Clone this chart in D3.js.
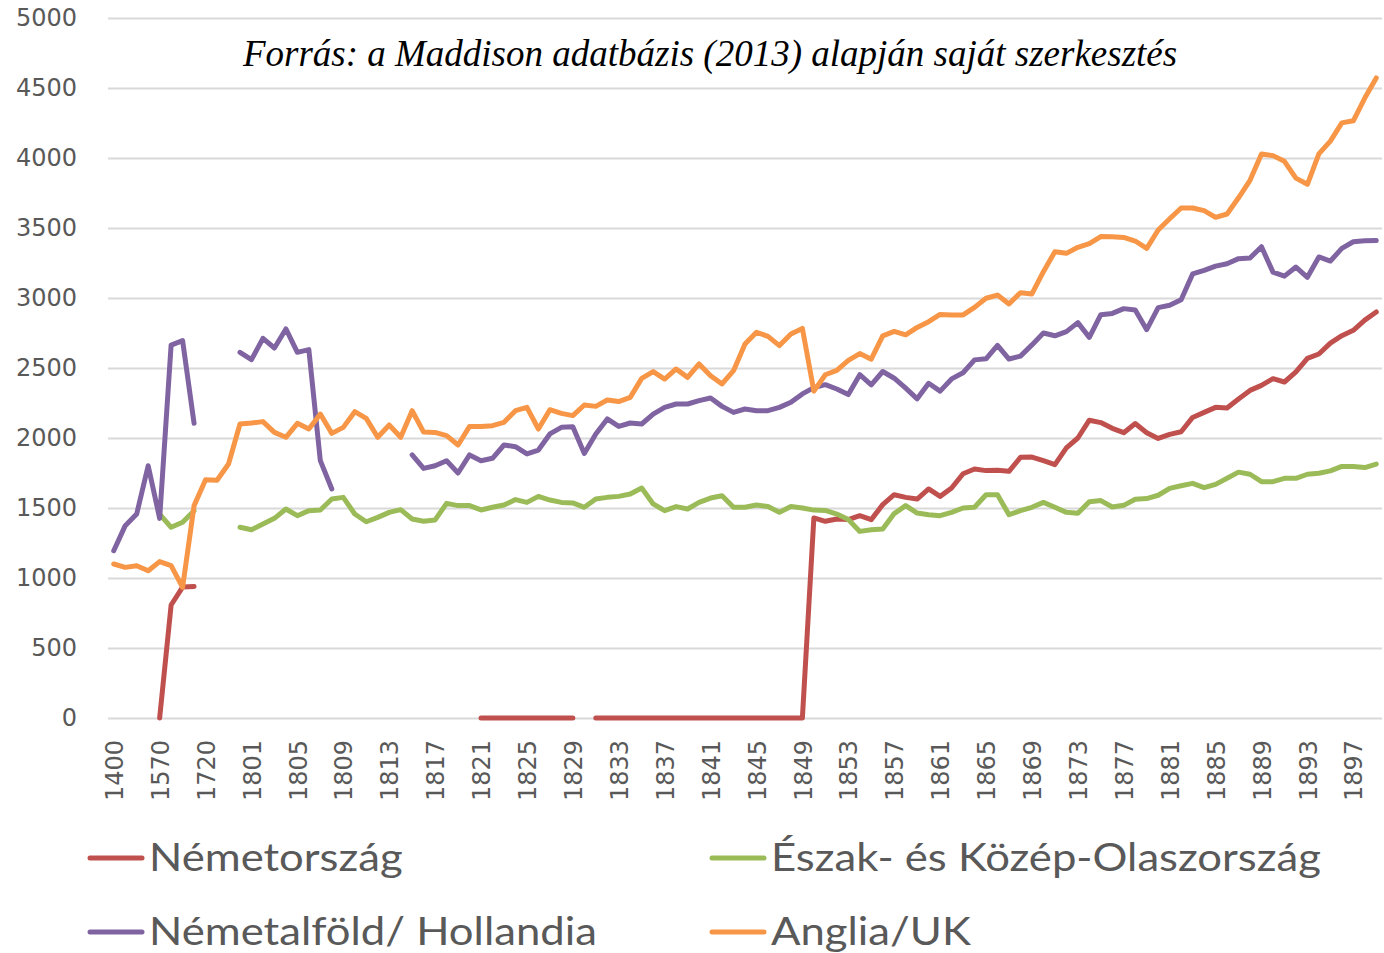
<!DOCTYPE html>
<html>
<head>
<meta charset="utf-8">
<script src="https://cdn.jsdelivr.net/npm/d3@7"></script>
<style>
	body { margin: 0; background: #fff; }
	svg { display: block; }
</style>
</head>
<body>
<div id="chart"></div>
<script>
// Data

var earlyYears = ['1400', '1450', '1500', '1550', '1570', '1600', '1650', '1700', '1720', '1750', '1780', '1800'];
var years = earlyYears.concat(d3.range(1801, 1900).map(String));

var nemetorszag = [
	null, null, null, null, 0, 807, 935, 940, null, null, null, null,
	null, null, null, null, null, null, null, null, null, null, null, null, null, null, null, null, null, null,
	null, null, 0, 0, 0, 0, 0, 0, 0, 0, 0, null,
	0, 0, 0, 0, 0, 0, 0, 0, 0, 0, 0, 0, 0, 0, 0, 0, 0, 0, 0,
	1429, 1405, 1421, 1417, 1445, 1417, 1524, 1595, 1576, 1564, 1636, 1583, 1643, 1745, 1779, 1767, 1769, 1762,
	1862, 1864, 1838, 1810, 1929, 2000, 2127, 2110, 2069, 2038, 2103, 2038, 1997, 2026, 2045, 2147, 2183, 2219,
	2214, 2279, 2340, 2376, 2424, 2400, 2472, 2569, 2600, 2678, 2731, 2769, 2842, 2900
];

var olaszorszag = [
	null, null, null, null, 1457, 1362, 1398, 1481, null, null, null, 1362,
	1345, 1386, 1426, 1493, 1445, 1481, 1486, 1564, 1576, 1457, 1402, 1433, 1469, 1488, 1421, 1405, 1415, 1533,
	1517, 1517, 1486, 1505, 1521, 1560, 1540, 1583, 1557, 1540, 1536, 1505, 1564, 1576, 1583, 1600, 1643, 1529,
	1481, 1510, 1493, 1540, 1571, 1588, 1505, 1505, 1521, 1510, 1469, 1510, 1500, 1485, 1483, 1457, 1417, 1333,
	1345, 1350, 1460, 1517, 1464, 1452, 1445, 1469, 1500, 1505, 1595, 1595, 1452, 1481, 1505, 1540, 1505, 1469,
	1462, 1545, 1553, 1507, 1519, 1562, 1567, 1591, 1640, 1659, 1676, 1645, 1669, 1712, 1756, 1741, 1688, 1688,
	1712, 1712, 1741, 1748, 1765, 1797, 1797, 1789, 1814
];

var hollandia = [
	1195, 1374, 1457, 1802, 1426, 2664, 2695, 2105, null, null, null, 2612,
	2560, 2712, 2643, 2779, 2612, 2631, 1838, 1636, null, null, null, null, null, null, 1879, 1783, 1802, 1838,
	1750, 1879, 1838, 1855, 1950, 1938, 1886, 1914, 2029, 2076, 2081, 1890, 2029, 2136, 2083, 2107, 2100, 2171,
	2219, 2243, 2243, 2267, 2286, 2226, 2183, 2207, 2195, 2195, 2219, 2255, 2315, 2360, 2381, 2350, 2310, 2452,
	2380, 2475, 2427, 2356, 2280, 2391, 2335, 2422, 2466, 2558, 2566, 2662, 2564, 2585, 2665, 2750, 2730, 2760,
	2824, 2719, 2881, 2890, 2924, 2914, 2774, 2931, 2948, 2987, 3172, 3197, 3228, 3245, 3281, 3286, 3366, 3185,
	3156, 3221, 3148, 3293, 3264, 3354, 3402, 3409, 3410
];

var anglia = [
	1100, 1076, 1088, 1052, 1117, 1088, 933, 1517, 1702, 1698, 1814, 2100,
	2107, 2117, 2040, 2005, 2105, 2064, 2171, 2033, 2076, 2188, 2140, 2005, 2093, 2005, 2195, 2042, 2040, 2017,
	1950, 2083, 2083, 2088, 2112, 2195, 2219, 2064, 2202, 2176, 2160, 2236, 2226, 2271, 2260, 2290, 2426, 2474,
	2421, 2493, 2433, 2529, 2445, 2386, 2481, 2671, 2755, 2726, 2660, 2743, 2783, 2335, 2452, 2483, 2555, 2603,
	2563, 2730, 2761, 2737, 2790, 2831, 2883, 2879, 2879, 2933, 2998, 3021, 2957, 3038, 3029, 3188, 3331, 3319,
	3362, 3388, 3439, 3438, 3433, 3407, 3354, 3486, 3566, 3643, 3643, 3624, 3576, 3600, 3716, 3841, 4029, 4017,
	3976, 3856, 3812, 4029, 4121, 4251, 4266, 4428, 4572
];

var yTicks = [0, 500, 1000, 1500, 2000, 2500, 3000, 3500, 4000, 4500, 5000];

var seriesNames = ['Németország', 'Észak- és Közép-Olaszország', 'Németalföld/ Hollandia', 'Anglia/UK'];
var seriesColors = ['#C0504D', '#9BBB59', '#8064A2', '#F79646'];
var seriesValues = [nemetorszag, olaszorszag, hollandia, anglia];

var title = 'Forrás: a Maddison adatbázis (2013) alapján saját szerkesztés';

// Config

var width = 1384;
var height = 953;
var plot = { left: 108, right: 1382, top: 18, bottom: 718 };
var grey = '#595959';
var lineWidth = 5;

// Scales

var x = d3.scalePoint()
	.domain(years)
	.range([plot.left, plot.right])
	.padding(0.5);

var y = d3.scaleLinear()
	.domain([0, 5000])
	.range([plot.bottom, plot.top]);

// Setup

var svg = d3.select('#chart').append('svg')
	.attr('width', width)
	.attr('height', height);

// gridlines + y labels
var yAxis = svg.append('g')
	.attr('transform', `translate(${plot.left},0)`)
	.call(d3.axisLeft(y)
		.tickValues(yTicks)
		.tickFormat(d3.format('d'))
		.tickSize(plot.left - plot.right)
		.tickPadding(31));
yAxis.select('.domain').remove();
yAxis.selectAll('.tick line').attr('stroke', '#D9D9D9').attr('stroke-width', 2);
yAxis.selectAll('.tick text')
	.attr('fill', grey)
	.style('font-family', '"DejaVu Sans", sans-serif')
	.style('font-size', '24px');

// category labels, every 4th one
var xAxis = svg.append('g')
	.attr('transform', `translate(0,${plot.bottom})`)
	.call(d3.axisBottom(x).tickValues(years.filter((d, i) => i % 4 === 0)).tickSize(0));
xAxis.select('.domain').remove();
xAxis.selectAll('.tick text')
	.attr('fill', grey)
	.attr('transform', 'rotate(-90)')
	.attr('text-anchor', 'end')
	.attr('x', -22)
	.attr('y', 0)
	.attr('dy', '0.36em')
	.style('font-family', '"DejaVu Sans", sans-serif')
	.style('font-size', '24px');

// series lines
var line = d3.line()
	.defined(d => d.value !== null)
	.x(d => x(d.year))
	.y(d => y(d.value));

seriesValues.forEach((values, si) => {
	var points = values.map((v, i) => ({ year: years[i], value: v }));
	svg.append('path')
		.datum(points)
		.attr('fill', 'none')
		.attr('stroke', seriesColors[si])
		.attr('stroke-width', lineWidth)
		.attr('stroke-linejoin', 'round')
		.attr('stroke-linecap', 'round')
		.attr('d', line);
});

// title
svg.append('text')
	.attr('x', 710)
	.attr('y', 66)
	.attr('text-anchor', 'middle')
	.style('font-family', '"Liberation Serif", "Times New Roman", serif')
	.style('font-style', 'italic')
	.style('font-size', '37px')
	.attr('fill', '#000')
	.text(title);

// legend
var legendPos = [[90, 858], [712, 858], [90, 932], [712, 932]];
var legend = svg.append('g').selectAll('g')
	.data(seriesNames)
	.enter().append('g')
		.attr('transform', (d, i) => `translate(${legendPos[i][0]},${legendPos[i][1]})`);
legend.append('line')
	.attr('x1', 0).attr('x2', 52)
	.attr('stroke', (d, i) => seriesColors[i])
	.attr('stroke-width', 5)
	.attr('stroke-linecap', 'round');
legend.append('text')
	.attr('transform', 'translate(59,13) scale(1.12,1)')
	.attr('fill', grey)
	.style('font-family', 'Lato, sans-serif')
	.style('font-size', '39px')
	.text(d => d);
</script>
</body>
</html>
